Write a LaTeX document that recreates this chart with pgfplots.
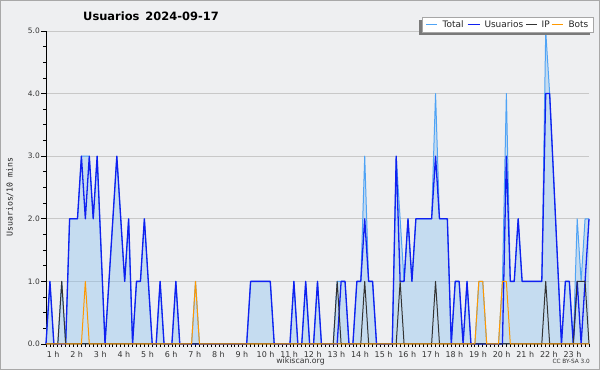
\documentclass[border=0pt]{standalone}
\usepackage{pgfplots}
\pgfplotsset{compat=1.18}
\usepackage{pgfplotstable}
\usepackage{fontspec}
\setmainfont{DejaVu Sans}
\setmonofont{DejaVu Sans Mono}
\definecolor{bg}{HTML}{EEEFF1}
\definecolor{frame}{HTML}{A8A8A8}
\definecolor{gridc}{HTML}{C8C8C8}
\definecolor{totc}{HTML}{4FA3F5}
\definecolor{fillc}{HTML}{88C0EF}
\definecolor{usrc}{HTML}{1020F0}
\definecolor{ipc}{HTML}{333333}
\definecolor{botc}{HTML}{FF9900}
\definecolor{txt}{HTML}{333333}
\definecolor{shadowc}{HTML}{7A7A7A}

\pgfplotstableread{
k T U I B
0 0 0 0 0
1 1 1 0 0
2 0 0 0 0
3 0 0 0 0
4 1 0 1 0
5 0 0 0 0
6 2 2 0 0
7 2 2 0 0
8 2 2 0 0
9 3 3 0 0
10 3 2 0 1
11 3 3 0 0
12 2 2 0 0
13 3 3 0 0
14 1.5 1.5 0 0
15 0 0 0 0
16 1 1 0 0
17 2 2 0 0
18 3 3 0 0
19 2 2 0 0
20 1 1 0 0
21 2 2 0 0
22 0 0 0 0
23 1 1 0 0
24 1 1 0 0
25 2 2 0 0
26 1 1 0 0
27 0 0 0 0
28 0 0 0 0
29 1 1 0 0
30 0 0 0 0
31 0 0 0 0
32 0 0 0 0
33 1 1 0 0
34 0 0 0 0
35 0 0 0 0
36 0 0 0 0
37 0 0 0 0
38 1 0 0 1
39 0 0 0 0
40 0 0 0 0
41 0 0 0 0
42 0 0 0 0
43 0 0 0 0
44 0 0 0 0
45 0 0 0 0
46 0 0 0 0
47 0 0 0 0
48 0 0 0 0
49 0 0 0 0
50 0 0 0 0
51 0 0 0 0
52 1 1 0 0
53 1 1 0 0
54 1 1 0 0
55 1 1 0 0
56 1 1 0 0
57 1 1 0 0
58 0 0 0 0
59 0 0 0 0
60 0 0 0 0
61 0 0 0 0
62 0 0 0 0
63 1 1 0 0
64 0 0 0 0
65 0 0 0 0
66 1 1 0 0
67 0 0 0 0
68 0 0 0 0
69 1 1 0 0
70 0 0 0 0
71 0 0 0 0
72 0 0 0 0
73 0 0 0 0
74 1 0 1 0
75 1 1 0 0
76 1 1 0 0
77 0 0 0 0
78 0 0 0 0
79 1 1 0 0
80 1 1 0 0
81 3 2 1 0
82 1 1 0 0
83 1 1 0 0
84 0 0 0 0
85 0 0 0 0
86 0 0 0 0
87 0 0 0 0
88 0 0 0 0
89 3 3 0 0
90 2 1 1 0
91 1 1 0 0
92 2 2 0 0
93 1 1 0 0
94 2 2 0 0
95 2 2 0 0
96 2 2 0 0
97 2 2 0 0
98 2 2 0 0
99 4 3 1 0
100 2 2 0 0
101 2 2 0 0
102 2 2 0 0
103 0 0 0 0
104 1 1 0 0
105 1 1 0 0
106 0 0 0 0
107 1 1 0 0
108 0 0 0 0
109 0 0 0 0
110 1 0 0 1
111 1 0 0 1
112 0 0 0 0
113 0 0 0 0
114 0 0 0 0
115 0 0 0 0
116 1 0 0 1
117 4 3 0 1
118 1 1 0 0
119 1 1 0 0
120 2 2 0 0
121 1 1 0 0
122 1 1 0 0
123 1 1 0 0
124 1 1 0 0
125 1 1 0 0
126 1 1 0 0
127 5 4 1 0
128 4 4 0 0
129 2.67 2.67 0 0
130 1.33 1.33 0 0
131 0 0 0 0
132 1 1 0 0
133 1 1 0 0
134 0 0 0 0
135 2 1 1 0
136 1 0 1 0
137 2 1 1 0
138 2 2 0 0
}\data

\begin{document}
\begin{tikzpicture}
\fill[bg] (0bp,0bp) rectangle (600bp,370bp);
\draw[frame, line width=1bp] (0.5bp,0.5bp) rectangle (599.5bp,369.5bp);
\begin{axis}[
  at={(46bp,26bp)}, anchor=south west,
  scale only axis, width=543bp, height=313bp,
  xmin=0, xmax=138, ymin=0, ymax=5,
  clip=false,
  axis lines*=left,
  axis line style={-, black, line width=1bp},
  tick align=outside,
  tick style={black, line width=0.8bp},
  major tick length=5bp,
  minor tick length=3bp,
  xtick={1.8,7.8,...,133.8},
  xticklabels={1 h,2 h,3 h,4 h,5 h,6 h,7 h,8 h,9 h,10 h,11 h,12 h,13 h,14 h,15 h,16 h,17 h,18 h,19 h,20 h,21 h,22 h,23 h},
  minor xtick={0,1,...,138},
  major x tick style={draw=none},
  ytick={0,1,2,3,4,5},
  yticklabels={0.0,1.0,2.0,3.0,4.0,5.0},
  minor ytick={0.25,0.5,0.75,1.25,1.5,1.75,2.25,2.5,2.75,3.25,3.5,3.75,4.25,4.5,4.75},
  ymajorgrids,
  major grid style={gridc, line width=0.9bp},
  xticklabel style={font=\fontsize{8}{9}\selectfont, text=txt, inner sep=0pt, yshift=-2bp},
  yticklabel style={font=\fontsize{7.5}{9}\selectfont, text=txt, inner sep=0pt, xshift=-1bp},
]
\addplot[fill=fillc, fill opacity=0.4, draw=none] table[x=k, y=T] {\data} \closedcycle;
\addplot[totc, line width=1bp, line join=round] table[x=k, y=T] {\data};
\addplot[usrc, line width=1.3bp, line join=round] table[x=k, y=U] {\data};
\addplot[ipc, line width=1bp, line join=round] table[x=k, y=I] {\data};
\addplot[botc, line width=1bp, line join=round] table[x=k, y=B] {\data};
\end{axis}
% legend
\fill[shadowc] (419bp,335bp) rectangle (590bp,350bp);
\draw[gray!70, fill=white, line width=0.8bp] (422bp,338bp) rectangle (593bp,353bp);
\begin{scope}[font=\fontsize{9}{10}\selectfont, every node/.style={inner sep=0pt, anchor=base west, text=black!85}]
\draw[totc, line width=1bp] (426bp,345.5bp) -- (436.5bp,345.5bp);
\node at (442.5bp,342bp) {Total};
\draw[usrc, line width=1.3bp] (467.5bp,345.5bp) -- (480bp,345.5bp);
\node at (484.3bp,342bp) {Usuarios};
\draw[ipc, line width=1bp] (526bp,345.5bp) -- (536.7bp,345.5bp);
\node at (541.5bp,342bp) {IP};
\draw[botc, line width=1bp] (551.7bp,345.5bp) -- (563.3bp,345.5bp);
\node at (568.3bp,342bp) {Bots};
\end{scope}
\node[anchor=base, font=\bfseries\fontsize{11.5}{13}\selectfont] at (151bp,349.3bp) {Usuarios\hspace{6bp}2024-09-17};
\node[rotate=90, font=\ttfamily\fontsize{8.2}{9}\selectfont, text=black!85] at (10bp,173bp) {Usuarios/10 mins};
\node[inner sep=0pt, font=\fontsize{7.8}{9}\selectfont, text=txt] at (300.5bp,8.5bp) {wikiscan.org};
\node[inner sep=0pt, anchor=east, font=\fontsize{5.8}{7}\selectfont, text=txt] at (590bp,8.5bp) {CC BY-SA 3.0};
\end{tikzpicture}
\end{document}
